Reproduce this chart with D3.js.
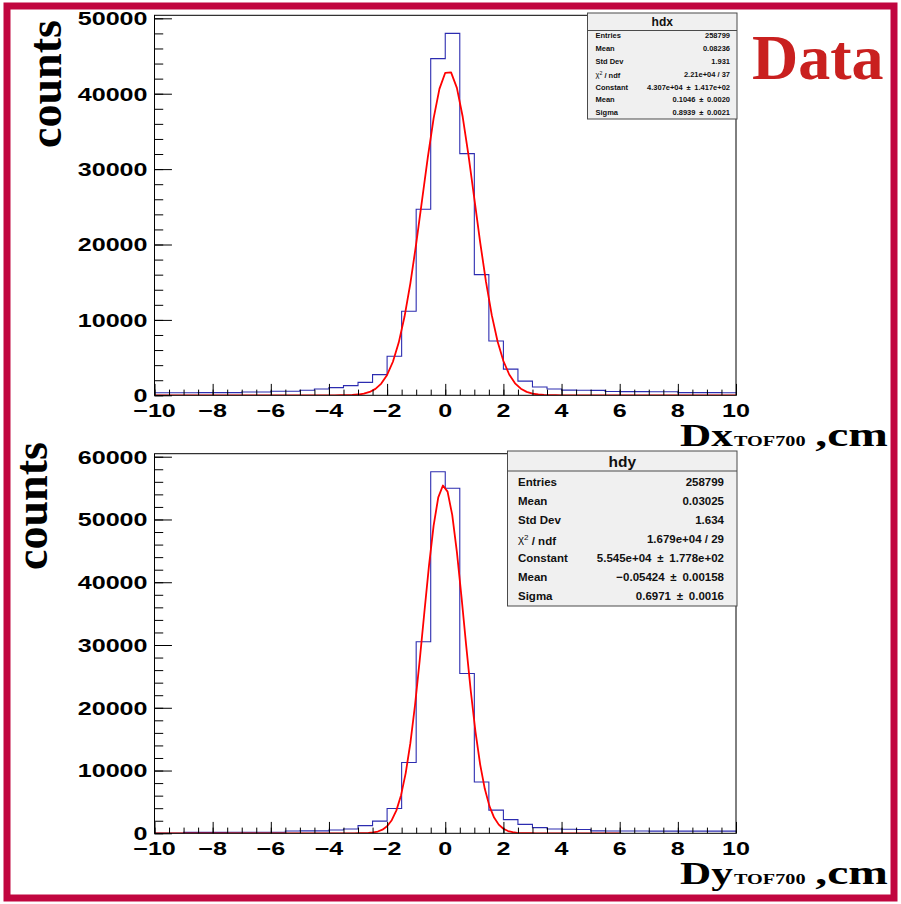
<!DOCTYPE html>
<html>
<head>
<meta charset="utf-8">
<script src="https://cdn.jsdelivr.net/npm/d3@7"></script>
<style>
  body { margin: 0; background: #fff; }
  svg { display: block; }
</style>
</head>
<body>
<svg id="canvas" width="901" height="904"></svg>
<script>
// ---- data -------------------------------------------------------------
// bin centres (bin width 0.5 cm, range -10 .. 10)
const binCenters = [
  -9.75, -9.25, -8.75, -8.25, -7.75, -7.25, -6.75, -6.25, -5.75, -5.25,
  -4.75, -4.25, -3.75, -3.25, -2.75, -2.25, -1.75, -1.25, -0.75, -0.25,
   0.25,  0.75,  1.25,  1.75,  2.25,  2.75,  3.25,  3.75,  4.25,  4.75,
   5.25,  5.75,  6.25,  6.75,  7.25,  7.75,  8.25,  8.75,  9.25,  9.75
];
const hdxCounts = [
  340, 340, 345, 350, 350, 355, 440, 440, 530, 530,
  660, 840, 1020, 1280, 1720, 2740, 5170, 11140, 24670, 44650,
  48000, 32050, 16010, 7200, 3470, 1880, 1100, 840, 680, 660,
  650, 500, 490, 490, 480, 480, 360, 350, 350, 340
];
const hdyCounts = [
  0, 0, 150, 150, 155, 160, 160, 165, 170, 370,
  380, 390, 530, 690, 1220, 1940, 3960, 11280, 30510, 57600,
  54970, 25470, 8180, 3700, 2180, 1420, 900, 680, 640, 600,
  380, 370, 360, 360, 350, 350, 350, 340, 340, 340
];

// Gaussian fit parameters: constant, mean, sigma
const hdxFit = [43070, 0.1046, 0.8939];
const hdyFit = [55450, -0.05424, 0.6971];
const hdxFitRange = [-10, 10];
const hdyFitRange = [-10, 6];

// axis ticks
const xTickValues = [-10, -8, -6, -4, -2, 0, 2, 4, 6, 8, 10];
const xTickLabels = ["\u221210", "\u22128", "\u22126", "\u22124", "\u22122", "0", "2", "4", "6", "8", "10"];
const hdxYTicks = [0, 10000, 20000, 30000, 40000, 50000];
const hdxYLabels = ["0", "10000", "20000", "30000", "40000", "50000"];
const hdyYTicks = [0, 10000, 20000, 30000, 40000, 50000, 60000];
const hdyYLabels = ["0", "10000", "20000", "30000", "40000", "50000", "60000"];

// statistics boxes
const PM = "\u2002\u00b1\u2002";
const statNames = ["Entries", "Mean", "Std Dev", "CHI2", "Constant", "Mean", "Sigma"];
const hdxStatValues = ["258799", "0.08236", "1.931", "2.21e+04 / 37",
  "4.307e+04" + PM + "1.417e+02", "0.1046" + PM + "0.0020", "0.8939" + PM + "0.0021"];
const hdyStatValues = ["258799", "0.03025", "1.634", "1.679e+04 / 29",
  "5.545e+04" + PM + "1.778e+02", "\u22120.05424" + PM + "0.00158", "0.6971" + PM + "0.0016"];

// ---- drawing ------------------------------------------------------------
const svg = d3.select("#canvas");
const SX = 1.35;           // horizontal stretch of axis text
const sans = "'Liberation Sans', Arial, Helvetica, sans-serif";
const serif = "'Liberation Serif', 'Times New Roman', serif";

svg.append("rect").attr("width", 901).attr("height", 904).attr("fill", "#fff");

const panels = [
  { name: "hdx", counts: hdxCounts, fit: hdxFit, fitRange: hdxFitRange,
    yTicks: hdxYTicks, yLabels: hdxYLabels, stats: hdxStatValues,
    left: 154.5, right: 736, top: 15.3, bottom: 395.3,
    axisVar: "Dx", countsX: 61, countsY: 84,
    box: { x0: 587.5, y0: 13, x1: 737, y1: 119, headBottom: 30.5, headY: 22,
           headFont: 12, rowY0: 35.3, rowStep: 12.9, font: 7.5, labelX: 595.5, valueX: 730 } },
  { name: "hdy", counts: hdyCounts, fit: hdyFit, fitRange: hdyFitRange,
    yTicks: hdyYTicks, yLabels: hdyYLabels, stats: hdyStatValues,
    left: 154.5, right: 736, top: 453.7, bottom: 833.3,
    axisVar: "Dy", countsX: 47, countsY: 506,
    box: { x0: 507.5, y0: 451, x1: 737, y1: 606, headBottom: 471, headY: 461.5,
           headFont: 15.5, rowY0: 482, rowStep: 19.05, font: 11.5, labelX: 518, valueX: 724 } }
];

panels.forEach((p, pi) => {
  const g = svg.append("g");
  const x = d3.scaleLinear().domain([-10, 10]).range([p.left, p.right]);
  const yMax = 1.05 * d3.max(p.counts);
  const y = d3.scaleLinear().domain([0, yMax]).range([p.bottom, p.top]);

  const clipId = "clip" + pi;
  svg.append("clipPath").attr("id", clipId).append("rect")
    .attr("x", p.left).attr("y", p.top).attr("width", p.right - p.left).attr("height", p.bottom - p.top);

  // histogram outline
  const half = (binCenters[1] - binCenters[0]) / 2;
  const steps = binCenters.map((c, i) => [c - half, p.counts[i]]);
  steps.push([binCenters[binCenters.length - 1] + half, p.counts[p.counts.length - 1]]);
  g.append("path")
    .attr("clip-path", `url(#${clipId})`)
    .attr("d", d3.line().x(d => x(d[0])).y(d => y(d[1])).curve(d3.curveStepAfter)(steps))
    .attr("fill", "none").attr("stroke", "#2c2cb0").attr("stroke-width", 1.1);

  // Gaussian fit curve, 100 segments over the fit range
  const [A, mu, sig] = p.fit;
  const [f0, f1] = p.fitRange;
  const npx = 100;
  const fitPts = d3.range(npx + 1).map(i => {
    const xv = f0 + i * (f1 - f0) / npx;
    return [xv, A * Math.exp(-0.5 * ((xv - mu) / sig) ** 2)];
  });
  g.append("path")
    .attr("clip-path", `url(#${clipId})`)
    .attr("d", d3.line().x(d => x(d[0])).y(d => y(d[1]))(fitPts))
    .attr("fill", "none").attr("stroke", "#ff0000").attr("stroke-width", 1.8)
    .attr("stroke-linejoin", "round");

  // frame
  g.append("rect")
    .attr("x", p.left).attr("y", p.top)
    .attr("width", p.right - p.left).attr("height", p.bottom - p.top)
    .attr("fill", "none").attr("stroke", "#000").attr("stroke-width", 1);

  // x axis ticks (inward)
  const fh = p.bottom - p.top, fw = p.right - p.left;
  const xMinor = d3.range(-10, 10.001, 0.5);
  g.append("g").attr("transform", `translate(0,${p.bottom})`)
    .call(d3.axisBottom(x).tickValues(xMinor).tickSize(-0.015 * fh).tickFormat(""))
    .call(a => a.select(".domain").remove());
  g.append("g").attr("transform", `translate(0,${p.bottom})`)
    .call(d3.axisBottom(x).tickValues(xTickValues).tickSize(-0.03 * fh).tickFormat(""))
    .call(a => a.select(".domain").remove());
  // y axis ticks (inward)
  const yMinor = d3.range(0, yMax, 2000);
  g.append("g").attr("transform", `translate(${p.left},0)`)
    .call(d3.axisLeft(y).tickValues(yMinor).tickSize(-0.015 * fw).tickFormat(""))
    .call(a => a.select(".domain").remove());
  g.append("g").attr("transform", `translate(${p.left},0)`)
    .call(d3.axisLeft(y).tickValues(p.yTicks).tickSize(-0.03 * fw).tickFormat(""))
    .call(a => a.select(".domain").remove());
  g.selectAll(".tick line").attr("stroke", "#000").attr("stroke-width", 1);

  // tick labels
  g.append("g").selectAll("text").data(xTickValues).join("text")
    .attr("transform", d => `translate(${x(d)},${p.bottom + 21.5}) scale(${SX},1)`)
    .attr("text-anchor", "middle")
    .attr("font-family", sans).attr("font-weight", "bold").attr("font-size", 18.6)
    .text((d, i) => xTickLabels[i]);
  g.append("g").selectAll("text").data(p.yTicks).join("text")
    .attr("transform", d => `translate(${p.left - 7},${y(d) + 0.3}) scale(${SX},1)`)
    .attr("text-anchor", "end").attr("dy", "0.35em")
    .attr("font-family", sans).attr("font-weight", "bold").attr("font-size", 18.6)
    .text((d, i) => p.yLabels[i]);

  // y axis title
  g.append("text")
    .attr("transform", `translate(${p.countsX},${p.countsY}) rotate(-90)`)
    .attr("text-anchor", "middle")
    .attr("font-family", serif).attr("font-weight", "bold").attr("font-size", 46)
    .text("counts");

  // x axis title: D{x,y}_{TOF700} ,cm
  const tb = p.bottom + 50.4;
  g.append("text")
    .attr("transform", `translate(680,${tb}) scale(1.35,1)`)
    .attr("font-family", serif).attr("font-weight", "bold").attr("font-size", 32)
    .text(p.axisVar);
  g.append("text")
    .attr("transform", `translate(734,${tb}) scale(1.35,1)`)
    .attr("font-family", serif).attr("font-weight", "bold").attr("font-size", 15)
    .text("TOF700");
  g.append("text")
    .attr("transform", `translate(888,${tb}) scale(1.4,1)`)
    .attr("text-anchor", "end")
    .attr("font-family", serif).attr("font-weight", "bold").attr("font-size", 34)
    .text(",cm");

  // statistics box
  const b = p.box;
  const sb = g.append("g");
  sb.append("rect").attr("x", b.x0).attr("y", b.y0)
    .attr("width", b.x1 - b.x0).attr("height", b.y1 - b.y0)
    .attr("fill", "#f0f0f0").attr("stroke", "#4a4a4a").attr("stroke-width", 1);
  sb.append("line").attr("x1", b.x0).attr("x2", b.x1)
    .attr("y1", b.headBottom).attr("y2", b.headBottom)
    .attr("stroke", "#4a4a4a").attr("stroke-width", 1);
  sb.append("text").attr("x", (b.x0 + b.x1) / 2).attr("y", b.headY).attr("dy", "0.35em")
    .attr("text-anchor", "middle").attr("font-family", sans).attr("font-weight", "bold")
    .attr("font-size", b.headFont).attr("fill", "#111").text(p.name);
  statNames.forEach((nm, i) => {
    const ry = b.rowY0 + i * b.rowStep;
    const t = sb.append("text").attr("x", b.labelX).attr("y", ry).attr("dy", "0.35em")
      .attr("font-family", sans).attr("font-weight", "bold").attr("font-size", b.font)
      .attr("fill", "#111");
    if (nm === "CHI2") {
      t.attr("font-weight", "normal");
      t.append("tspan").text("\u03c7");
      t.append("tspan").attr("dy", "-0.4em").attr("font-size", b.font * 0.7).text("2");
      t.append("tspan").attr("dy", "0.4em").attr("font-weight", "bold").text(" / ndf");
    } else {
      t.text(nm);
    }
    sb.append("text").attr("x", b.valueX).attr("y", ry).attr("dy", "0.35em")
      .attr("text-anchor", "end")
      .attr("font-family", sans).attr("font-weight", "bold").attr("font-size", b.font)
      .attr("fill", "#111").text(p.stats[i]);
  });
});

// label in the upper right corner
svg.append("text").attr("x", 752).attr("y", 79)
  .attr("font-family", serif).attr("font-weight", "bold").attr("font-size", 64)
  .attr("fill", "#c9201f").text("Data");

// outer border
svg.append("rect").attr("x", 7).attr("y", 6).attr("width", 887).attr("height", 892)
  .attr("fill", "none").attr("stroke", "#c1063f").attr("stroke-width", 7);
</script>
</body>
</html>
